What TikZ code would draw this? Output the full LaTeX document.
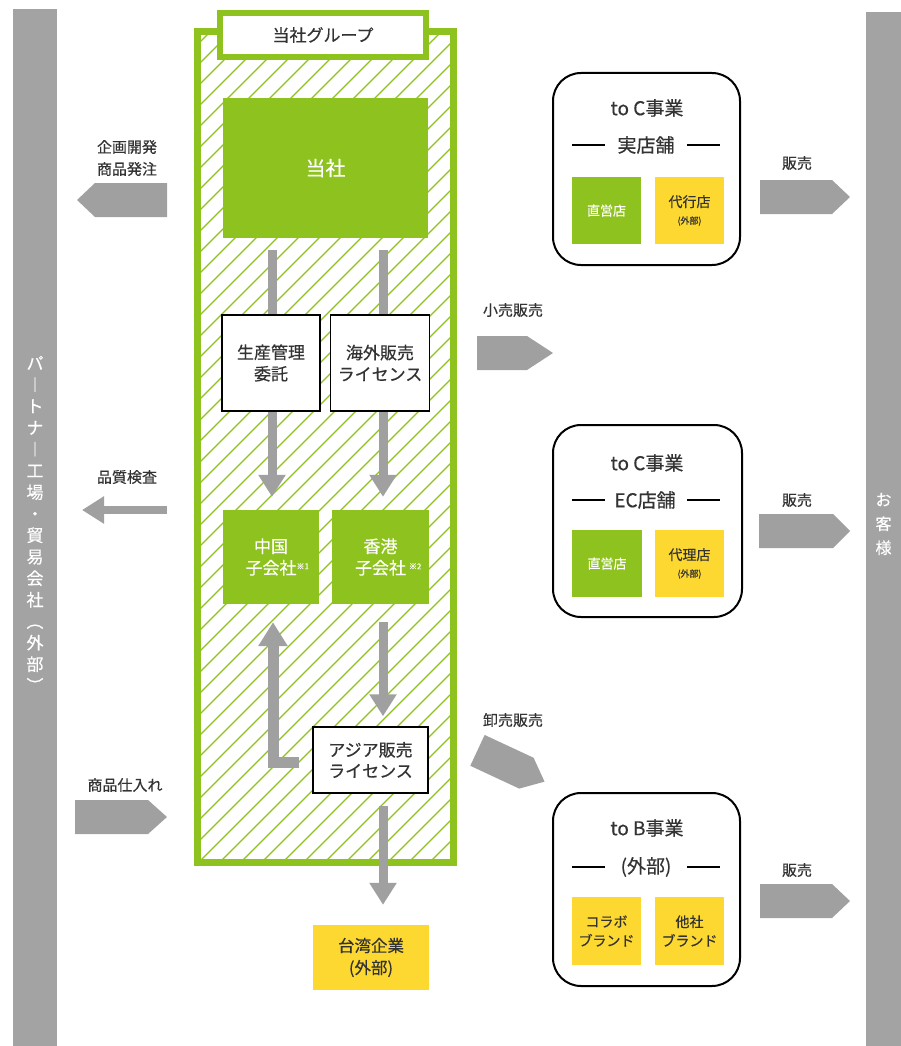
\documentclass[tikz,border=0pt]{standalone}
\usepackage{fontspec}
\setmainfont{Noto Sans CJK JP}[FakeBold=0.4]
\usetikzlibrary{arrows.meta,calc}
\definecolor{grn}{HTML}{8DC21F}
\definecolor{ylw}{HTML}{FCD830}
\definecolor{arrg}{HTML}{A0A0A0}
\definecolor{barg}{HTML}{A3A3A3}
\definecolor{txt}{HTML}{333333}
\newcommand\fsz[2]{\fontsize{#1}{#2}\selectfont}
\newcommand\hpR[4]{\fill[arrg] ({#1},{#4-17}) -- ({#2},{#4-17}) -- ({#3},{#4}) -- ({#2},{#4+17}) -- ({#1},{#4+17}) -- cycle;}
\newcommand\kome[1]{\raisebox{5pt}{\fsz{8}{8}※#1}}
\begin{document}
\begin{tikzpicture}[x=1pt,y=-1pt,
  bar/.style={fill=barg, inner sep=0pt},
  bartext/.style={inner sep=0pt, align=center, text=white},
  plain/.style={inner sep=0pt, align=center, text=txt},
  wbox/.style={draw=black, line width=1.5pt, fill=white, inner sep=0pt, align=center, text=txt},
  gbox/.style={fill=grn, inner sep=0pt, align=center, text=white},
  ybox/.style={fill=ylw, inner sep=0pt, align=center, text=txt},
  rbox/.style={draw=black, line width=2pt, rounded corners=28pt, fill=white, inner sep=0pt},
  dashl/.style={draw=black, line width=2.5pt},
  gline/.style={draw=arrg, line width=9pt},
  garrow/.style={draw=arrg, line width=9pt, -{Triangle[width=26pt,length=22pt]}},
  hatch/.style={draw=grn, line width=1.3pt},
]
\useasboundingbox[fill=white] (0,0) rectangle (901,1046);

% side bars
\node[bar, minimum width=44pt, minimum height=1037pt] (lbar) at (35,527.5) {};
\node[bartext, font=\fsz{17}{21.5}] (lbart) at (35,524) {パ\\︱\\ト\\ナ\\︱\\工\\場\\・\\貿\\易\\会\\社\\︵\\外\\部\\︶};
\node[bar, minimum width=35pt, minimum height=1034pt] (rbar) at (883.5,529) {};
\node[bartext, font=\fsz{16}{24}] (rbart) at (883.5,524) {お\\客\\様};

% hatching of the group
\begin{scope}
\clip (200.5,34.5) rectangle (450.5,859.5);
\foreach \i in {-42,...,13} \draw[hatch] ({201+21*\i},860) -- ({201+21*\i+826},34);
\end{scope}
\node[draw=grn, line width=7pt, minimum width=256pt, minimum height=831pt, inner sep=0pt] (grp) at (325.5,447) {};
\node[draw=grn, line width=6pt, fill=white, minimum width=206pt, minimum height=44pt, inner sep=0pt, text=txt, font=\fsz{17}{20}] (tab) at (323,35) {当社グループ};

% group contents
\node[gbox, minimum width=205pt, minimum height=140pt, font=\fsz{20}{24}] (tousha) at (325.5,168) {当社};
\node[wbox, minimum width=98pt, minimum height=96pt, font=\fsz{17}{21.5}] (seisan) at (271,363) {生産管理\\委託};
\node[wbox, minimum width=99pt, minimum height=96pt, font=\fsz{17}{21.5}] (kaigai) at (380,363) {海外販売\\ライセンス};
\node[gbox, minimum width=96pt, minimum height=94pt, font=\fsz{17}{21.5}] (china) at (271,557) {中国\\子会社\rlap{\kome{1}}};
\node[gbox, minimum width=97pt, minimum height=94pt, font=\fsz{17}{21.5}] (hk) at (380.5,557) {香港\\子会社\rlap{\hspace{3pt}\kome{2}}};
\node[wbox, minimum width=115pt, minimum height=66pt, font=\fsz{17}{21}] (asia) at (370.5,760) {アジア販売\\ライセンス};
\node[ybox, minimum width=116pt, minimum height=65pt, font=\fsz{16.5}{22}] (taiwan) at (371,957.5) {台湾企業\\(外部)};

% internal arrows
\draw[gline] ($(tousha.south -| seisan)+(1,12)$) -- ($(seisan.north)+(1,0)$);
\draw[garrow] ($(seisan.south)+(1,0)$) -- ($(china.north)+(1,-13)$);
\draw[gline] ($(tousha.south -| kaigai)+(3,12)$) -- ($(kaigai.north)+(3,0)$);
\draw[garrow] ($(kaigai.south)+(3,0)$) -- ($(hk.north -| kaigai)+(3,-13)$);
\draw[garrow] ($(hk.south -| kaigai)+(3,18)$) -- ($(asia.north -| kaigai)+(3,-10)$);
\draw[garrow] ($(asia.south -| kaigai)+(3,12)$) -- ($(taiwan.north -| kaigai)+(3,-20)$);
\draw[draw=arrg, line width=11pt, line join=miter, -{Triangle[width=28pt,length=24pt]}] ($(asia.west)+(-13,2)$) -| ($(china.south)+(2,18)$);

% left side flows
\node[plain, font=\fsz{15}{22}] (lab1) at (127,158) {企画開発\\商品発注};
\hpR{167}{95}{77}{200}
\node[plain, font=\fsz{15}{22}] (lab2) at (127,477) {品質検査};
\coordinate (q1) at (167,510);
\coordinate (q2) at (82,510);
\draw[garrow, line width=8pt] (q1) -- (q2);
\node[plain, font=\fsz{15}{22}] (lab3) at (125,785) {商品仕入れ};
\hpR{75}{148}{167}{817}

% middle flows
\node[plain, font=\fsz{15}{22}] (lab4) at (513,310) {小売販売};
\hpR{477}{527}{553}{353}
\node[plain, font=\fsz{15}{22}] (lab5) at (513,720) {卸売販売};
\begin{scope}[shift={(511,766)}, rotate=-25]
\hpR{-37}{17}{37}{0}
\end{scope}

% to C (real stores)
\node[rbox, minimum width=187pt, minimum height=192pt] (tocA) at (646.5,169) {};
\node[plain, font=\fsz{19}{22}] (tocAt) at (647,108) {to C事業};
\node[plain, font=\fsz{19}{22}] (tocAs) at (646,145) {実店舗};
\draw[dashl] (572,145) -- (605,145);
\draw[dashl] (687,145) -- (720,145);
\node[gbox, minimum width=69pt, minimum height=67pt, font=\fsz{13}{16}] (chokuA) at (606.5,210.5) {直営店};
\node[ybox, minimum width=69pt, minimum height=67pt, font=\fsz{14}{17}] (daikou) at (689.5,210.5) {代行店\\{\fsz{9}{10}(外部)}};
\node[plain, font=\fsz{15}{22}] (lab6) at (797,163) {販売};
\hpR{760}{832}{850}{197}

% to C (EC)
\node[rbox, minimum width=189pt, minimum height=192pt] (tocB) at (647.5,521) {};
\node[plain, font=\fsz{19}{22}] (tocBt) at (647,463) {to C事業};
\node[plain, font=\fsz{19}{22}] (tocBs) at (645,500) {EC店舗};
\draw[dashl] (572,500) -- (605,500);
\draw[dashl] (687,500) -- (720,500);
\node[gbox, minimum width=70pt, minimum height=67pt, font=\fsz{13}{16}] (chokuB) at (607,563.5) {直営店};
\node[ybox, minimum width=69pt, minimum height=67pt, font=\fsz{14}{17}] (dairi) at (689.5,563.5) {代理店\\{\fsz{9}{10}(外部)}};
\node[plain, font=\fsz{15}{22}] (lab7) at (797,500) {販売};
\hpR{759}{833}{850}{531}

% to B
\node[rbox, minimum width=187pt, minimum height=193pt] (tob) at (646.5,889.5) {};
\node[plain, font=\fsz{19}{22}] (tobt) at (647,828) {to B事業};
\node[plain, font=\fsz{19}{22}] (tobs) at (646,867) {(外部)};
\draw[dashl] (572,867) -- (605,867);
\draw[dashl] (687,867) -- (720,867);
\node[ybox, minimum width=69pt, minimum height=68pt, font=\fsz{14}{19}] (collab) at (606.5,931) {コラボ\\ブランド};
\node[ybox, minimum width=69pt, minimum height=68pt, font=\fsz{14}{19}] (other) at (689.5,931) {他社\\ブランド};
\node[plain, font=\fsz{15}{22}] (lab8) at (797,870) {販売};
\hpR{760}{832}{850}{901}
\end{tikzpicture}
\end{document}
